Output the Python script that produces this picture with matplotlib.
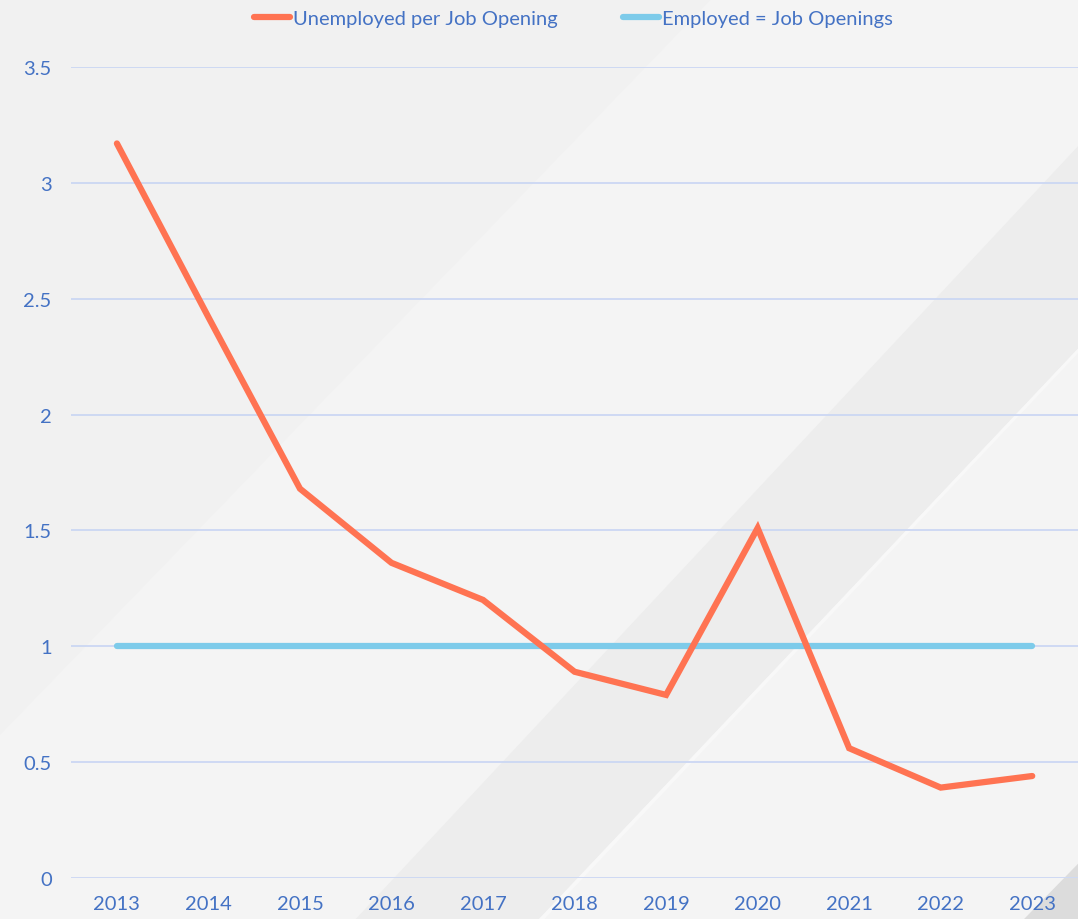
import matplotlib
matplotlib.use("Agg")
import matplotlib.pyplot as plt
from matplotlib.patches import Polygon

plt.rcParams['font.family'] = ['Lato', 'DejaVu Sans']

years = ["2013", "2014", "2015", "2016", "2017", "2018", "2019", "2020", "2021", "2022", "2023"]
unemployed_per_opening = [3.17, 2.42, 1.68, 1.36, 1.20, 0.89, 0.79, 1.51, 0.56, 0.39, 0.44]
employed_eq_openings = [1, 1, 1, 1, 1, 1, 1, 1, 1, 1, 1]

text_col = "#4472C4"
grid_col = "#CED9F3"

fig = plt.figure(figsize=(10.78, 9.2), dpi=100, facecolor="#F4F4F4")

# soft diagonal background bands, drawn in a background axes
bg = fig.add_axes([0, 0, 1, 1], zorder=-1)
bg.set_xlim(0, 1)
bg.set_ylim(0, 1)
bg.axis("off")
bg.add_patch(Polygon([(0, 0.2), (0.66, 1), (0, 1)], facecolor="#F1F1F1", edgecolor="none"))
bg.add_patch(Polygon([(0.33, 0), (1, 0.84), (1, 0.62), (0.50, 0)], facecolor="#EDEDED", edgecolor="none"))
bg.add_patch(Polygon([(0.50, 0), (1, 0.62), (1, 0.615), (0.505, 0)], facecolor="#F8F8F8", edgecolor="none"))
bg.add_patch(Polygon([(0.95, 0), (1, 0.06), (1, 0)], facecolor="#DCDCDC", edgecolor="none"))

ax = fig.add_axes([0.066, 0.0446, 0.934, 0.8815])
ax.patch.set_alpha(0)

x = list(range(len(years)))
ax.plot(x, unemployed_per_opening, color="#FF7352", lw=4.5, solid_capstyle="round",
        solid_joinstyle="miter", label="Unemployed per Job Opening", zorder=3)
ax.plot(x, employed_eq_openings, color="#7DCBEA", lw=4.5, solid_capstyle="round",
        label="Employed = Job Openings", zorder=2)

ax.set_xlim(-0.5, 10.5)
ax.set_ylim(0, 3.5)
ax.set_yticks([0, 0.5, 1, 1.5, 2, 2.5, 3, 3.5])
ax.set_yticklabels(["0", "0.5", "1", "1.5", "2", "2.5", "3", "3.5"])
ax.set_xticks(x)
ax.set_xticklabels(years)
ax.grid(axis="y", color=grid_col, lw=1.4)
ax.set_axisbelow(True)
for s in ax.spines.values():
    s.set_visible(False)
ax.tick_params(length=0, colors=text_col, labelsize=14.5)
ax.tick_params(axis="y", pad=14)
ax.tick_params(axis="x", pad=12)

leg = fig.legend(loc="upper center", bbox_to_anchor=(0.532, 1.008), ncol=2, frameon=False,
                 fontsize=14.5, handlelength=1.8, handletextpad=0.15, columnspacing=3.2)
for t in leg.get_texts():
    t.set_color(text_col)

fig.savefig("out.png", dpi=100, facecolor=fig.get_facecolor())
